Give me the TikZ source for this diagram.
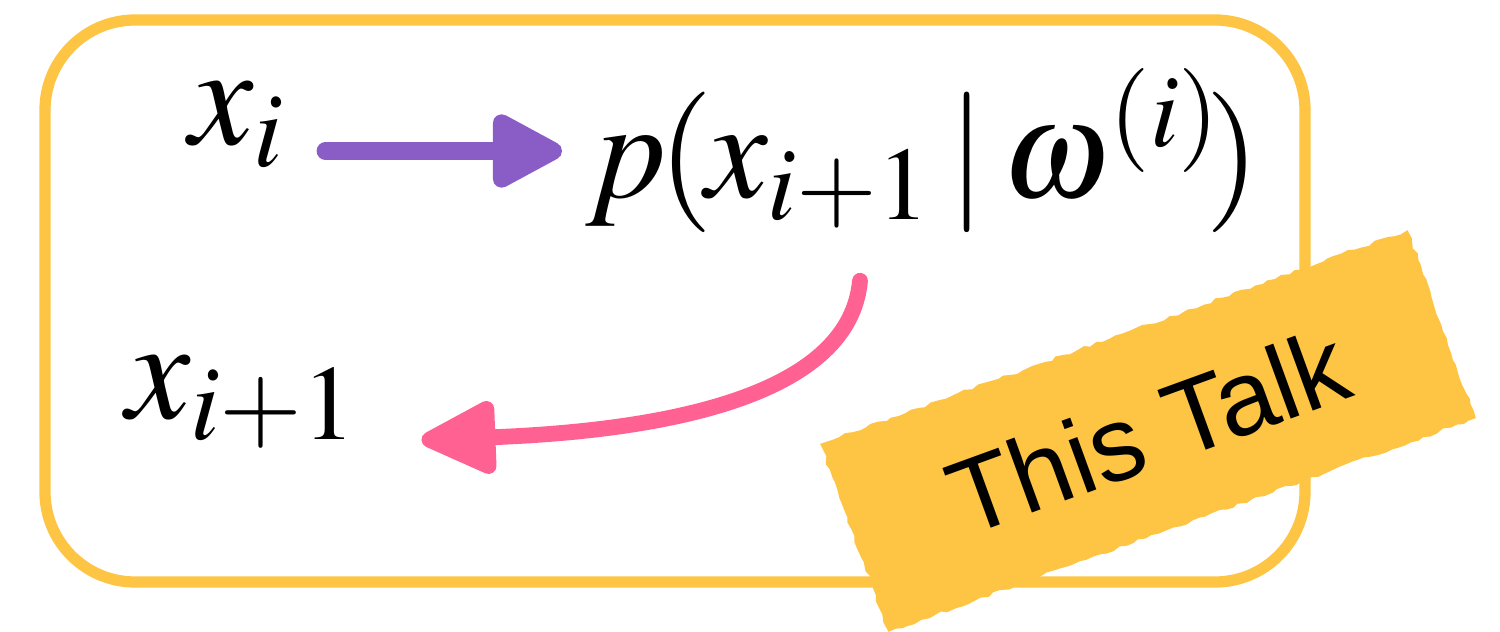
\documentclass[tikz,border=0pt]{standalone}
\usepackage{mathptmx}
\usepackage[no-math]{fontspec}
\newfontfamily\tagfont{Liberation Sans}
\usetikzlibrary{arrows.meta,positioning,decorations.pathmorphing}
\definecolor{tagyellow}{RGB}{254,196,68}
\definecolor{flowpurple}{RGB}{138,92,198}
\definecolor{flowpink}{RGB}{255,98,146}

\begin{document}
\begin{tikzpicture}[
  term/.style={inner sep=0pt, font=\fontsize{41}{48}\selectfont},
  frame/.style={draw=tagyellow, line width=3.2pt, rounded corners=0.9cm},
  tag/.style={fill=tagyellow, rotate=20, minimum width=6.25cm, minimum height=2cm,
    decorate, decoration={random steps, segment length=2pt, amplitude=0.5pt},
    font=\tagfont\fontsize{30}{36}\selectfont},
  purpleline/.style={draw=flowpurple, line width=5pt, line cap=round,
    -{Triangle[length=8mm, width=8mm, round]}},
  pinkline/.style={draw=flowpink, line width=4.5pt, line cap=round,
    -{Triangle[length=8.5mm, width=7.8mm, round]}}
]
\useasboundingbox (0,0) rectangle (15,6.32);
% outer frame
\draw[frame] (0.45,0.5) rectangle (13.05,6.12);

% terms
\node[term] (xi) at (2.37,5.07) {$x_i$};
\node[term, anchor=west, font=\fontsize{40}{48}\selectfont] (prob) at (5.85,4.81)
  {$p\mkern-1mu(\mkern-1mu x_{i+1}\mkern2mu|\mkern2mu\omega^{(i)}\mkern-2mu)$};
\node[term] (xnext) at (2.42,2.30) {$x_{i+1}$};

% flow
\draw[purpleline, shorten <=4mm, shorten >=2.3mm] (xi.east |- prob.west) -- (prob.west);
\draw[pinkline] ([xshift=2.75cm, yshift=-4.7mm]prob.south west)
  .. controls +(-0.1,-1.1) and +(2.6,0.1) .. ([xshift=6.3mm, yshift=-3.8mm]xnext.east);

% label
\node[tag] (talk) at (11.48,2.01) {This Talk};
\end{tikzpicture}
\end{document}
